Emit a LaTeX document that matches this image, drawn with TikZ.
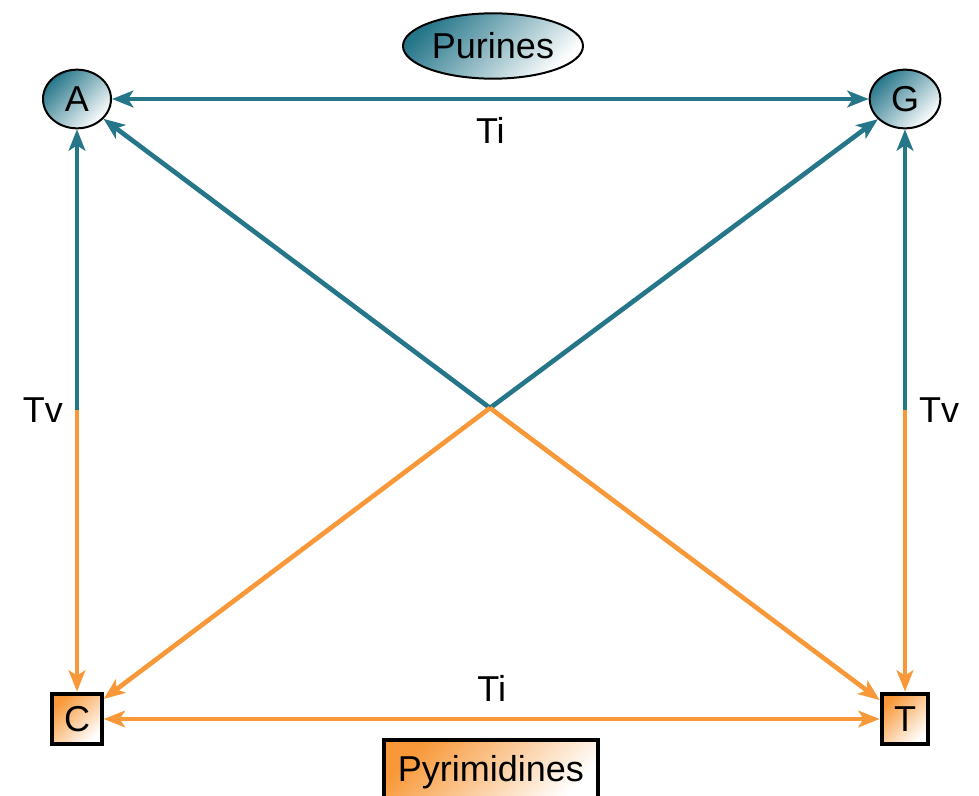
\documentclass[tikz,border=0pt]{standalone}
\usepackage{fontspec}
\setmainfont{Liberation Sans}
\usetikzlibrary{positioning}
\usetikzlibrary{shapes.geometric, arrows.meta, positioning}
\definecolor{purcol}{RGB}{38,118,138}
\definecolor{pyrcol}{RGB}{248,152,56}
\tikzstyle{purine} = [draw, ellipse, line width=1.5pt, top color=purcol, bottom color=white, shading angle=45, minimum width=51pt, minimum height=44pt, inner sep=0pt]
\tikzstyle{pyrimidine} = [draw, rectangle, line width=3pt, top color=pyrcol, bottom color=white, shading angle=45, minimum width=37pt, minimum height=38pt, inner sep=0pt]
\tikzstyle{purarrow} = [line width=3.5pt, purcol, -{Stealth[length=16pt,width=12.5pt,inset=4pt]}]
\tikzstyle{pyrarrow} = [line width=3.5pt, pyrcol, -{Stealth[length=16pt,width=12.5pt,inset=4pt]}]
\tikzstyle{label} = [text=black]

\begin{document}
\begin{tikzpicture}[x=0.75pt, y=-0.75pt, font=\fontsize{27}{32}\selectfont]
    \useasboundingbox (0,0) rectangle (979,796);
    % Nodes
    \node[purine] (A) at (77,99) {A};
    \node[purine, minimum width=53pt] (G) at (905,99) {G};
    \node[purine, minimum width=135pt, minimum height=49pt] (pur) at (493,46) {Purines};
    \node[pyrimidine] (C) at (77,719) {C};
    \node[pyrimidine, minimum width=35pt] (T) at (905,719) {T};
    \node[pyrimidine, minimum width=161pt, minimum height=48pt] (pyr) at (491,772) {Pyrimidines};
    \coordinate (mid) at (490,408);
    \coordinate (tvl) at (77,410);
    \coordinate (tvr) at (905,410);

    % Labels
    \node[label, left=7pt of tvl] (tvlab1) {Tv};
    \node[label, right=7pt of tvr] (tvlab2) {Tv};

    % Edges
    \draw[purarrow, {Stealth[length=16pt,width=12.5pt,inset=4pt]}-{Stealth[length=16pt,width=12.5pt,inset=4pt]}] (A) -- node[label, below=9pt] (ti1) {Ti} (G);
    \draw[pyrarrow, {Stealth[length=16pt,width=12.5pt,inset=4pt]}-{Stealth[length=16pt,width=12.5pt,inset=4pt]}] (C) -- node[label, above=8pt] (ti2) {Ti} (T);
    \draw[purarrow] (tvl) -- (A);
    \draw[pyrarrow] (tvl) -- (C);
    \draw[purarrow] (tvr) -- (G);
    \draw[pyrarrow] (tvr) -- (T);
    \draw[purarrow] (mid) -- (A);
    \draw[purarrow] (mid) -- (G);
    \draw[pyrarrow] (mid) -- (C);
    \draw[pyrarrow] (mid) -- (T);
\end{tikzpicture}
\end{document}
